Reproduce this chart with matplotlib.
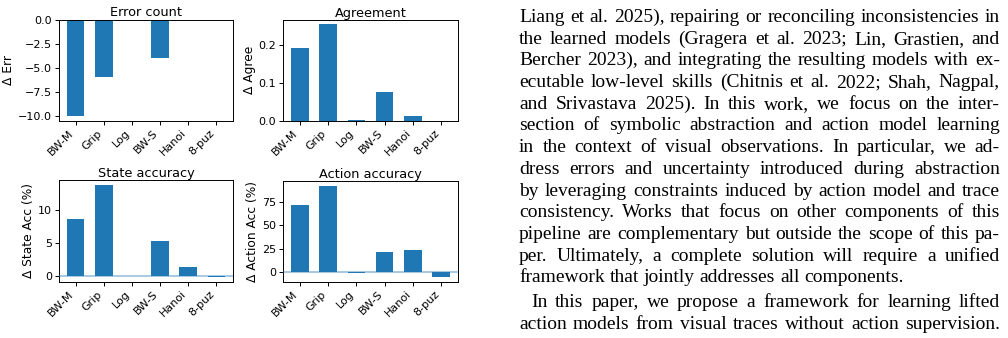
import matplotlib
matplotlib.use('Agg')
import matplotlib.pyplot as plt
from matplotlib.ticker import MultipleLocator
import numpy as np

domains = ["BW-M", "Grip", "Log", "BW-S", "Hanoi", "8-puz"]
d_err = [-10, -6, 0, -4, 0, 0]
d_agree = [0.192, 0.253, 0.003, 0.077, 0.014, 0.0]
d_state = [8.65, 13.75, 0.1, 5.35, 1.45, -0.15]
d_action = [71.5, 92.5, -1.0, 22.1, 24.2, -5.3]

titles = ["Error count", "Agreement", "State accuracy", "Action accuracy"]
ylabels = ["Δ Err", "Δ Agree", "Δ State Acc (%)", "Δ Action Acc (%)"]
ysteps = [2.5, 0.1, 5, 25]

paragraph = [
	"Liang et al. 2025), repairing or reconciling inconsistencies in",
	"the learned models (Gragera et al. 2023; Lin, Grastien, and",
	"Bercher 2023), and integrating the resulting models with ex-",
	"ecutable low-level skills (Chitnis et al. 2022; Shah, Nagpal,",
	"and Srivastava 2025). In this work, we focus on the inter-",
	"section of symbolic abstraction and action model learning",
	"in the context of visual observations. In particular, we ad-",
	"dress errors and uncertainty introduced during abstraction",
	"by leveraging constraints induced by action model and trace",
	"consistency. Works that focus on other components of this",
	"pipeline are complementary but outside the scope of this pa-",
	"per. Ultimately, a complete solution will require a unified",
	"framework that jointly addresses all components.",
	"In this paper, we propose a framework for learning lifted",
	"action models from visual traces without action supervision.",
]

W, H = 1008, 338
fig = plt.figure(figsize=(W / 100, H / 100), dpi=100)

# axes boxes in pixels: left, top, right, bottom
boxes = [(59, 19.5, 233, 121), (283, 19.5, 458, 121),
	(59, 180, 233, 282), (283, 181, 458, 282)]
series = [d_err, d_agree, d_state, d_action]

x = np.arange(len(domains))
for i, (l, t, r, b) in enumerate(boxes):
	ax = fig.add_axes([l / W, 1 - b / H, (r - l) / W, (b - t) / H])
	ax.bar(x, series[i], width=0.62, color="#1f77b4")
	if i >= 2:
		ax.axhline(0, color="#1f77b4", alpha=0.5, lw=1.1, zorder=3)
	ax.yaxis.set_major_locator(MultipleLocator(ysteps[i]))
	ax.set_xticks(x)
	ax.set_xticklabels(domains, rotation=45, ha="right", fontsize=8)
	ax.tick_params(axis="both", labelsize=8, length=3, width=0.7, pad=2)
	ax.set_title(titles[i], fontsize=9.3, pad=2)
	ax.set_ylabel(ylabels[i], fontsize=8.8, labelpad=2)
	for s in ax.spines.values():
		s.set_linewidth(0.7)

# justified paragraph on the right
fig.canvas.draw()
rend = fig.canvas.get_renderer()
left_px, right_px = 519, 1000
fs = 14
sp = fig.text(0, 0, "a a", fontsize=fs, family="Liberation Serif")
sp2 = fig.text(0, 0, "aa", fontsize=fs, family="Liberation Serif")
space_w = sp.get_window_extent(renderer=rend).width - sp2.get_window_extent(renderer=rend).width
sp.remove(); sp2.remove()
for k, line in enumerate(paragraph):
	y_px = 18 + k * 21.7 + (3 if k >= 13 else 0)
	x0 = left_px + (12 if k == 13 else 0)
	words = line.split()
	objs = [fig.text(0, 0, w_, fontsize=fs, family="Liberation Serif",
		va="baseline", ha="left") for w_ in words]
	widths = [o.get_window_extent(renderer=rend).width for o in objs]
	if k != 12 and len(words) > 1:
		gap = (right_px - x0 - sum(widths)) / (len(words) - 1)
	else:
		gap = space_w
	cx = x0
	for o, wd in zip(objs, widths):
		o.set_position((cx / W, 1 - (y_px + 4) / H))
		cx += wd + gap

fig.savefig("out.png", dpi=100)
